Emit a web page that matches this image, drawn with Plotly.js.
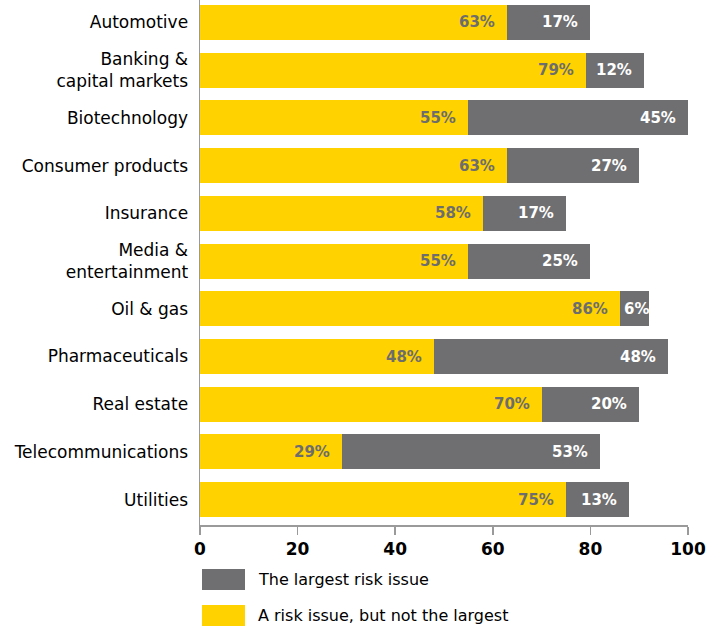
<!DOCTYPE html>
<html><head><meta charset="utf-8">
<script src="https://cdn.plot.ly/plotly-3.0.1.min.js"></script>
<style>html,body{margin:0;padding:0;background:#fff}#c{width:722px;height:629px}</style>
</head><body><div id="c"></div>
<script>
const categories = ["Automotive","Banking &<br>capital markets","Biotechnology","Consumer products","Insurance","Media &<br>entertainment","Oil & gas","Pharmaceuticals","Real estate","Telecommunications","Utilities"];
const notLargest = [63,79,55,63,58,55,86,48,70,29,75];
const largest = [17,12,45,27,17,25,6,48,20,53,13];
const seriesNames = ["A risk issue, but not the largest","The largest risk issue"];
const tickVals = [0,20,40,60,80,100];

const YEL = "#FFD200", GRY = "#6F6F71";
const FONT = "DejaVu Sans";
const PX_PER_UNIT = 488/100;

const traces = [
  {type:"bar", orientation:"h", y:categories, x:notLargest, name:seriesNames[0], marker:{color:YEL}, hoverinfo:"none", width:0.734},
  {type:"bar", orientation:"h", y:categories, x:largest, name:seriesNames[1], marker:{color:GRY}, hoverinfo:"none", width:0.734}
];

const annotations = [];
categories.forEach((c,i)=>{
  annotations.push({x:notLargest[i], y:c, xref:"x", yref:"y", text:notLargest[i]+"%", showarrow:false, xanchor:"right", xshift:-10, font:{family:FONT, size:15, color:"#6D6D6D", weight:"bold"}});
  const segPx = largest[i]*PX_PER_UNIT;
  if (segPx < 45) {
    annotations.push({x:notLargest[i]+largest[i]/2, y:c, xref:"x", yref:"y", text:largest[i]+"%", showarrow:false, xanchor:"center", xshift:2, font:{family:FONT, size:15, color:"#FFFFFF", weight:"bold"}});
  } else {
    annotations.push({x:notLargest[i]+largest[i], y:c, xref:"x", yref:"y", text:largest[i]+"%", showarrow:false, xanchor:"right", xshift:-10, font:{family:FONT, size:15, color:"#FFFFFF", weight:"bold"}});
  }
});
// legend
const legendItems = [[seriesNames[1], GRY],[seriesNames[0], YEL]];
const shapes = [];
legendItems.forEach((it,k)=>{
  const y0 = 569 + k*36;
  shapes.push({type:"rect", xref:"paper", yref:"paper", x0:(202-200)/488, x1:(245-200)/488, y0:(525-y0)/525, y1:(525-(y0+21))/525, fillcolor:it[1], line:{width:0}});
  annotations.push({xref:"paper", yref:"paper", x:(256-200)/488, y:(525-(y0+10.5))/525, xanchor:"left", yanchor:"middle", text:it[0], showarrow:false, font:{family:FONT, size:16, color:"#000"}});
});

const layout = {
  width:722, height:629,
  margin:{l:200, r:34, t:0, b:104},
  barmode:"stack",
  showlegend:false,
  paper_bgcolor:"#fff", plot_bgcolor:"#fff",
  font:{family:FONT, size:16, color:"#000"},
  xaxis:{range:[0,100], tickvals:tickVals, showgrid:false, zeroline:false, showline:true, linecolor:"#9A9A9A", linewidth:1.5,
         ticks:"outside", ticklen:8, tickcolor:"#9A9A9A", tickwidth:1.5, tickfont:{family:FONT, size:17, weight:"bold", color:"#000"}, fixedrange:true},
  yaxis:{range:[10.53,-0.47], showgrid:false, zeroline:false, showline:true, linecolor:"#9A9A9A", linewidth:1.5, ticks:"", ticklabelstandoff:7,
         tickfont:{family:FONT, size:17, color:"#000"}, fixedrange:true},
  annotations:annotations, shapes:shapes
};
Plotly.newPlot("c", traces, layout, {displayModeBar:false, staticPlot:true});
</script></body></html>
